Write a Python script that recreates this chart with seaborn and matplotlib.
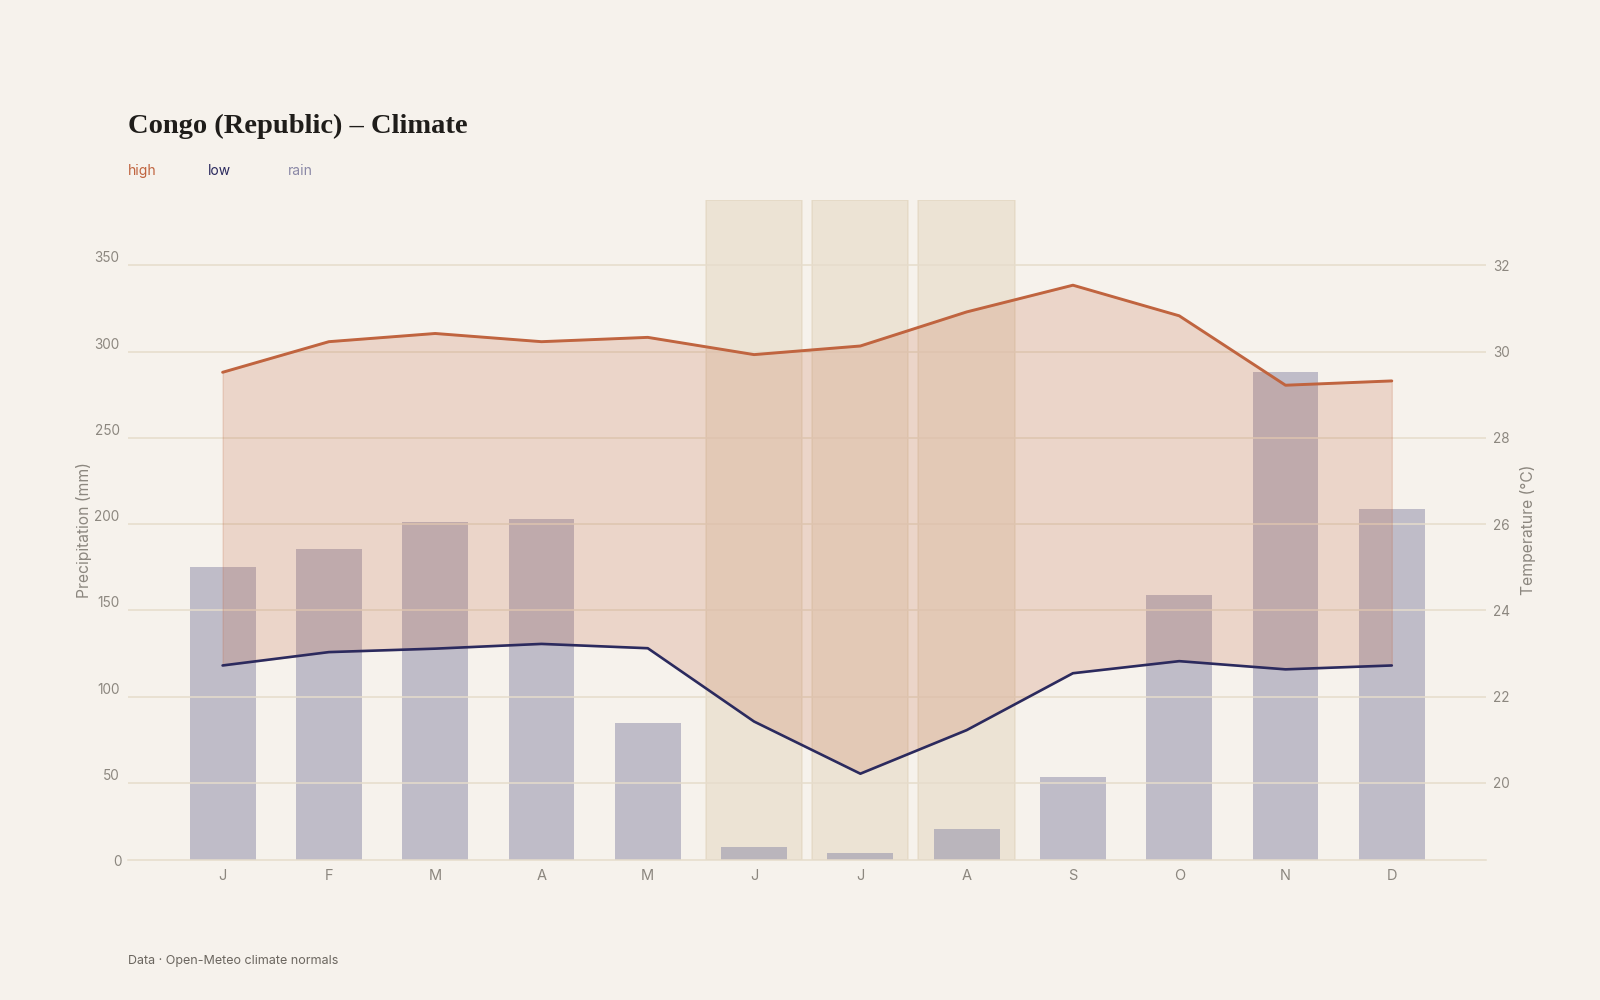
import numpy as np
import pandas as pd
import matplotlib
matplotlib.use("Agg")
import matplotlib.pyplot as plt
import seaborn as sns

# ---- data ----
months = ["J", "F", "M", "A", "M", "J", "J", "A", "S", "O", "N", "D"]
rain_mm = [175, 185.5, 201, 203, 84.5, 13, 9, 23, 53.5, 159, 288, 208.5]
temp_high = [29.52, 30.23, 30.42, 30.23, 30.33, 29.93, 30.13, 30.92, 31.54, 30.83, 29.22, 29.32]
temp_low = [22.72, 23.03, 23.11, 23.22, 23.12, 21.42, 20.21, 21.22, 22.54, 22.82, 22.63, 22.72]
dry_months = [5, 6, 7]
rain_ticks = [50, 100, 150, 200, 250, 300, 350]
temp_ticks = [20, 22, 24, 26, 28, 30, 32]

BG = "#f6f2ec"
HIGH_C = "#c0643f"
LOW_C = "#2b2a5e"
RAIN_C = "#8a88a6"
GRID_C = "#e6dccb"
TICK_C = "#8c877f"

sns.set_theme(style="white")
plt.rcParams["font.family"] = ["Inter", "DejaVu Sans"]

df = pd.DataFrame({"m": np.arange(12), "rain": rain_mm,
                   "high": temp_high, "low": temp_low})

fig = plt.figure(figsize=(16, 10), dpi=100, facecolor=BG)
ax = fig.add_axes([0.08, 0.14, 0.849, 0.66])
ax.set_facecolor(BG)

# dry season shading
for d in dry_months:
    ax.axvspan(d - 0.453, d + 0.453, facecolor="#d8c6a6", alpha=0.33,
               edgecolor="#d6c4a6", linewidth=1.2, zorder=0)

sns.barplot(data=df, x="m", y="rain", ax=ax, color=RAIN_C, alpha=0.5,
            saturation=1, width=0.62, linewidth=0, zorder=2)

rain_lo, rain_hi = 5.2, 387.9
ax.set_ylim(rain_lo, rain_hi)
ax.set_xlim(-0.89, 11.89)
ax.set_yticks(rain_ticks)
ax.set_yticklabels([str(t) for t in rain_ticks])
ax.yaxis.grid(True, color=GRID_C, linewidth=1.1, zorder=3)
ax.set_axisbelow(False)
ax.xaxis.grid(False)
ax.set_xticks(np.arange(12))
ax.set_xticklabels(months)
ax.tick_params(axis="x", length=0, pad=6.5, labelsize=10.5, labelcolor=TICK_C)
ax.tick_params(axis="y", length=0, pad=6, labelsize=9.8, labelcolor=TICK_C)
for lab in ax.get_yticklabels():
    lab.set_verticalalignment("bottom")
ax.annotate("0", xy=(0, 0), xycoords=ax.get_yaxis_transform(),
            xytext=(-6, 0), textcoords="offset pixels", ha="right", va="bottom",
            fontsize=9.8, color=TICK_C, annotation_clip=False)
ax.set_xlabel("")
ax.set_ylabel("Precipitation (mm)", fontsize=11.3, color=TICK_C, labelpad=2)
for s in ["left", "right", "top"]:
    ax.spines[s].set_visible(False)
ax.spines["bottom"].set_color(GRID_C)
ax.spines["bottom"].set_linewidth(1.1)

# temperature axis
ax2 = ax.twinx()
ax2.set_ylim(18 + rain_lo / 25, 18 + rain_hi / 25)
ax2.fill_between(df["m"], df["low"], df["high"], facecolor=HIGH_C, alpha=0.2,
                 edgecolor=HIGH_C, linewidth=1.0, zorder=1)
sns.lineplot(data=df, x="m", y="high", ax=ax2, color=HIGH_C, linewidth=2.1, zorder=3)
sns.lineplot(data=df, x="m", y="low", ax=ax2, color=LOW_C, linewidth=1.9, zorder=3)
ax2.set_xlim(-0.89, 11.89)
ax2.set_yticks(temp_ticks)
ax2.set_yticklabels([str(t) for t in temp_ticks])
ax2.tick_params(axis="y", length=0, pad=5, labelsize=9.8, labelcolor=TICK_C)
ax2.set_ylabel("Temperature (°C)", fontsize=11.3, color=TICK_C, labelpad=7,
               rotation=90)
ax2.set_xlabel("")
ax2.grid(False)
for s in ax2.spines.values():
    s.set_visible(False)

# title / legend / footer
fig.text(0.08, 0.867, "Congo (Republic) – Climate", family=["Liberation Serif", "DejaVu Serif"],
         fontweight="bold", fontsize=20.5, color="#1f1d1a", va="baseline", ha="left")
for xpx, lab, c in [(128, "high", HIGH_C), (208, "low", LOW_C), (288, "rain", RAIN_C)]:
    fig.text(xpx / 1600, 0.825, lab, fontsize=10, color=c, va="baseline", ha="left")
fig.text(0.08, 0.036, "Data · Open-Meteo climate normals", fontsize=9,
         color="#6b665f", va="baseline", ha="left")

fig.savefig("out.png", dpi=100, facecolor=BG)
